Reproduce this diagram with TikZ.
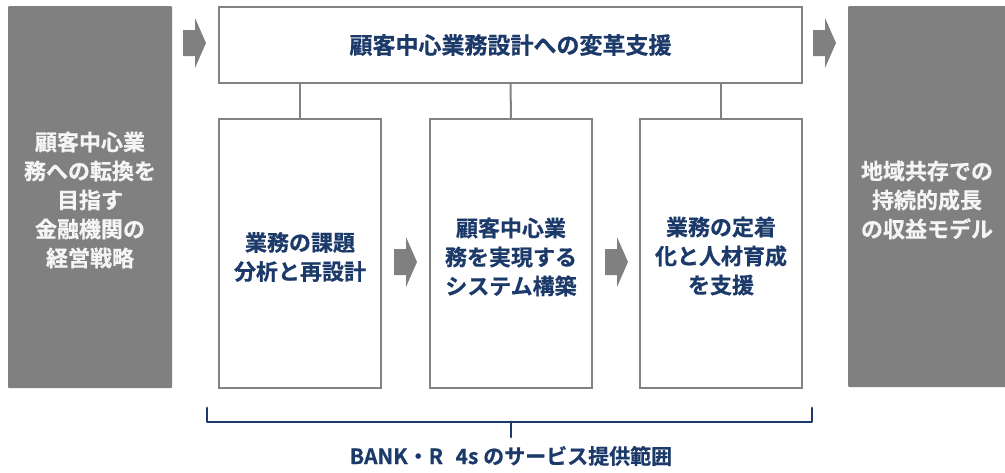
\documentclass[tikz,border=0pt]{standalone}
\usepackage{fontspec}
\setmainfont{Noto Sans CJK JP}[BoldFont={Noto Sans CJK JP Bold},BoldFeatures={FakeBold=0.6}]
\usetikzlibrary{positioning}
\definecolor{navy}{RGB}{28,58,105}
\definecolor{boxgray}{RGB}{128,128,128}
\definecolor{edgegray}{RGB}{130,130,130}
\definecolor{lighttxt}{RGB}{245,245,245}
\tikzset{
  darkbox/.style={fill=boxgray, draw=none, rounded corners=1pt, inner sep=0pt},
  whitebox/.style={fill=white, draw=edgegray, line width=2pt, inner sep=0pt},
  navytxt/.style={text=navy, font=\bfseries\fontsize{22}{29}\selectfont, align=center},
  whitetxt/.style={text=lighttxt, font=\bfseries\fontsize{22}{29}\selectfont, align=center},
  link/.style={draw=edgegray, line width=2pt},
  bracket/.style={draw=navy, line width=2.8pt, line join=round, line cap=round},
  flowarrow/.style={fill=boxgray, draw=none}
}
\newcommand{\flowarr}[2]{% #1 = left x, #2 = centre y
  \fill[boxgray] (#1,#2-13) -- (#1+12,#2-13) -- (#1+12,#2-25) -- (#1+23,#2) -- (#1+12,#2+25) -- (#1+12,#2+13) -- (#1,#2+13) -- cycle;}
\begin{document}
\begin{tikzpicture}[x=1pt,y=-1pt]
\useasboundingbox (0,0) rectangle (1005,472);
% left and right dark boxes
\path[darkbox] (8,6) rectangle (172,388);
\node[whitetxt] (left) at (90,200) {顧客中心業\\務への転換を\\目指す\\金融機関の\\経営戦略};
\path[darkbox] (848,6) rectangle (1010,387);
\node[whitetxt] (right) at (927,200) {地域共存での\\持続的成長\\の収益モデル};
% top box
\draw[whitebox] (219,7) rectangle (802,83);
\node[navytxt, font=\bfseries\fontsize{23}{29}\selectfont] (top) at (510.5,45) {顧客中心業務設計への変革支援};
\coordinate (topS1) at (300,83);
\coordinate (topS2) at (510.5,83);
\coordinate (topS3) at (721,83);
% three step boxes
\draw[whitebox] (219,119) rectangle (381,388);
\draw[whitebox] (430,119) rectangle (592,388);
\draw[whitebox] (640,119) rectangle (802,388);
\coordinate (b1N) at (300,119);
\coordinate (b2N) at (511,119);
\coordinate (b3N) at (721,119);
\node[navytxt] (b1) at (300,257) {業務の課題\\分析と再設計};
\node[navytxt] (b2) at (511,257) {顧客中心業\\務を実現する\\システム構築};
\node[navytxt] (b3) at (721,256) {業務の定着\\化と人材育成\\を支援};
% connectors
\draw[link] (topS1) -- (b1N);
\draw[link] (topS2) -- (b2N);
\draw[link] (topS3) -- (b3N);
% arrows
\flowarr{183}{43}
\flowarr{813}{43}
\flowarr{394}{262}
\flowarr{605}{262}
% bracket
\coordinate (brL) at (207,408);
\coordinate (brR) at (812,408);
\coordinate (brTip) at (511,437);
\draw[bracket] (brL) -- (207,422) -- (812,422) -- (brR);
\draw[bracket] (511,422) -- (brTip);
\node[text=navy, font=\bfseries\fontsize{21}{24}\selectfont] (scope) at (511,456) {BANK・R\hspace{0.6em}4s のサービス提供範囲};
\end{tikzpicture}
\end{document}
